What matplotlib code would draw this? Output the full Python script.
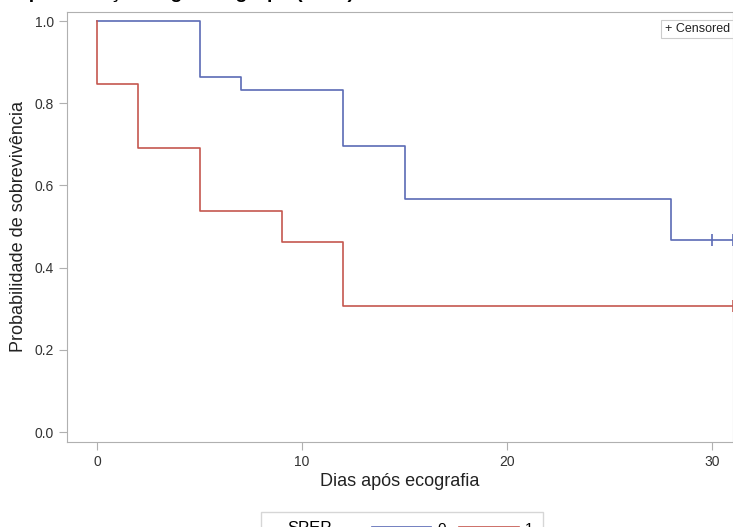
import matplotlib
matplotlib.use("Agg")
import matplotlib.pyplot as plt
from matplotlib.lines import Line2D
from matplotlib.offsetbox import HPacker, DrawingArea

plt.rcParams['font.family'] = ['Liberation Sans', 'DejaVu Sans']

# SPEP = 0
t0 = [0, 5, 7, 12, 15, 28, 31]
s0 = [1.0, 0.864, 0.833, 0.697, 0.567, 0.467, 0.467]
cens0_t = [30, 31]
cens0_s = [0.467, 0.467]

# SPEP = 1
t1 = [0, 0, 2, 5, 9, 12, 31]
s1 = [1.0, 0.846, 0.692, 0.538, 0.462, 0.308, 0.308]
cens1_t = [31]
cens1_s = [0.308]

xticks = [0, 10, 20, 30]
yticks = [0.0, 0.2, 0.4, 0.6, 0.8, 1.0]

c0 = '#5b6bb5'
c1 = '#c5574f'
grey = '#b0b0b0'

fig = plt.figure(figsize=(7.33, 5.27), dpi=100)
ax = fig.add_axes([67/733, 1-442/527, 666/733, 430/527])

ax.step(t0, s0, where='post', color=c0, lw=1.2)
ax.step(t1, s1, where='post', color=c1, lw=1.2)
ax.plot(cens0_t, cens0_s, ls='none', marker='|', ms=8, mew=1.2, color=c0)
ax.plot(cens1_t, cens1_s, ls='none', marker='|', ms=8, mew=1.2, color=c1)

ax.set_xlim(-1.46, 31.0)
ax.set_ylim(-0.024, 1.022)
ax.set_xticks(xticks)
ax.set_yticks(yticks)
ax.set_yticklabels([f'{v:.1f}' for v in yticks])
for s in ax.spines.values():
    s.set_color(grey)
ax.tick_params(colors=grey, labelcolor='#333333', labelsize=10, length=6)
ax.set_xlabel('Dias após ecografia', fontsize=13, color='#222222', labelpad=3)
ax.set_ylabel('Probabilidade de sobrevivência', fontsize=13, color='#222222', labelpad=5)

ax.text(0.995, 0.975, '+ Censored', transform=ax.transAxes, ha='right', va='top',
        fontsize=9, color='#222222',
        bbox=dict(boxstyle='square,pad=0.25', fc='white', ec='#cccccc', lw=0.8))

fig.text(0.005, 1 + 2/527, 'Representação segundo grupo (n=26)',
         fontsize=14, fontweight='bold', va='baseline', ha='left')

handles = [Line2D([], [], color=c0, lw=1.2), Line2D([], [], color=c1, lw=1.2)]
leg = fig.legend(handles, ['0', '1'], title='SPEP', loc='upper left',
                 bbox_to_anchor=(258/733, 1-509/527), ncol=2, frameon=True,
                 fontsize=11, title_fontsize=12, handlelength=3.9,
                 borderpad=0.3, columnspacing=0.9, handletextpad=0.4)
leg.get_frame().set_edgecolor('#cccccc')
leg.get_frame().set_boxstyle('square')
# title on the same row as the entries, indented a little
spacer = DrawingArea(12, 1)
title_row = HPacker(children=[spacer, leg._legend_title_box], align='center', pad=0, sep=0)
row = HPacker(children=[title_row, leg._legend_handle_box], align='center', pad=0, sep=29)
leg._legend_box._children[:] = [row]

fig.savefig('out.png', dpi=100)
